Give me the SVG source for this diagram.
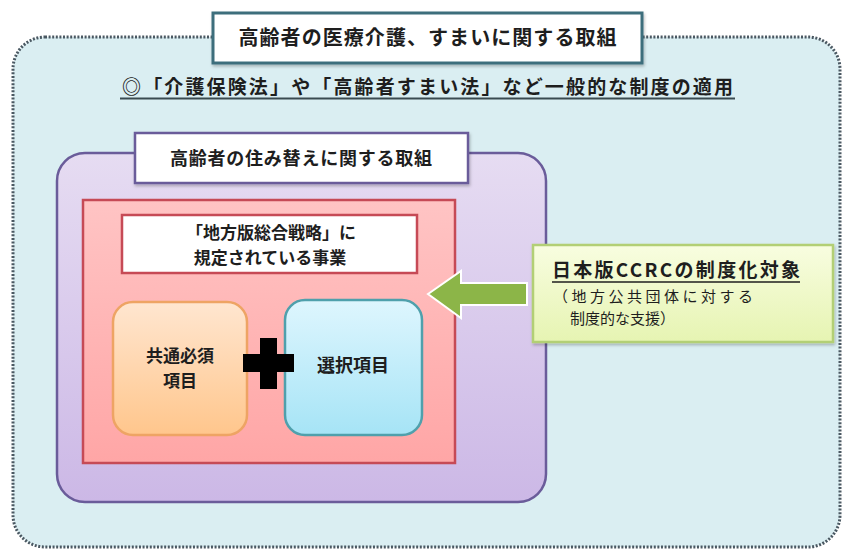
<svg xmlns="http://www.w3.org/2000/svg" width="843" height="551" viewBox="0 0 843 551">
<defs>
<linearGradient id="gPurple" x1="0" y1="0" x2="0" y2="1"><stop offset="0" stop-color="#e6dcf2"/><stop offset="1" stop-color="#ccb8e6"/></linearGradient>
<linearGradient id="gRed" x1="0" y1="0" x2="0" y2="1"><stop offset="0" stop-color="#ffc4c4"/><stop offset="1" stop-color="#ffa6a6"/></linearGradient>
<linearGradient id="gOrange" x1="0" y1="0" x2="0" y2="1"><stop offset="0" stop-color="#ffe6d0"/><stop offset="1" stop-color="#ffc68c"/></linearGradient>
<linearGradient id="gBlue" x1="0" y1="0" x2="0" y2="1"><stop offset="0" stop-color="#def6fe"/><stop offset="1" stop-color="#a6e4f6"/></linearGradient>
<linearGradient id="gGreen" x1="0" y1="0" x2="0" y2="1"><stop offset="0" stop-color="#f8fde0"/><stop offset="1" stop-color="#e6f4b2"/></linearGradient>
<filter id="sh" x="-10%" y="-10%" width="120%" height="130%"><feDropShadow dx="1" dy="2" stdDeviation="1.5" flood-color="#000" flood-opacity="0.25"/></filter>
</defs>
<style>
text{font-family:"Noto Sans CJK JP","Noto Sans",sans-serif;fill:#1e1e1e;}
.b{font-weight:bold;}
</style>
<rect width="843" height="551" fill="#ffffff"/>
<g id="outer">
<rect x="13" y="37" width="827" height="510" rx="32" fill="#daeef2" stroke="#4a5862" stroke-width="3" stroke-dasharray="2 1.6"/>
</g>
<g id="title">
<rect x="213" y="13" width="429" height="50" fill="#ffffff" stroke="#3d6e7c" stroke-width="3" filter="url(#sh)"/>
<text class="b" x="427.5" y="45" font-size="20" text-anchor="middle" textLength="378">高齢者の医療介護、すまいに関する取組</text>
</g>
<g id="subtitle">
<text class="b" x="122" y="94" font-size="19" textLength="611">◎「介護保険法」や「高齢者すまい法」など一般的な制度の適用</text>
<line x1="120" y1="98.5" x2="735" y2="98.5" stroke="#3a4a50" stroke-width="2"/>
</g>
<g id="purple">
<rect x="57" y="153" width="489" height="349" rx="28" fill="url(#gPurple)" stroke="#6a5c9a" stroke-width="2.5"/>
<rect x="135" y="133" width="333" height="50" fill="#ffffff" stroke="#6a5c9a" stroke-width="2.5" filter="url(#sh)"/>
<text class="b" x="301" y="165" font-size="18" text-anchor="middle" textLength="262">高齢者の住み替えに関する取組</text>
</g>
<g id="red">
<rect x="83" y="200" width="372" height="263" fill="url(#gRed)" stroke="#c64a56" stroke-width="2.5"/>
<rect x="122" y="215" width="295" height="58" fill="#ffffff" stroke="#c64a56" stroke-width="2.5"/>
<text class="b" x="271" y="239" font-size="17" text-anchor="middle">「地方版総合戦略」に</text>
<text class="b" x="270" y="264" font-size="17" text-anchor="middle">規定されている事業</text>
</g>
<g id="common">
<rect x="113" y="302" width="134" height="133" rx="20" fill="url(#gOrange)" stroke="#eea464" stroke-width="2.5"/>
<text class="b" x="180" y="362" font-size="17" text-anchor="middle">共通必須</text>
<text class="b" x="180" y="387" font-size="17" text-anchor="middle">項目</text>
</g>
<g id="select">
<rect x="285" y="300" width="137" height="135" rx="20" fill="url(#gBlue)" stroke="#4fa0ac" stroke-width="2.5"/>
<text class="b" x="353" y="372" font-size="18" text-anchor="middle">選択項目</text>
</g>
<g id="plus">
<rect x="243" y="354" width="51" height="18" fill="#000000"/>
<rect x="260" y="338" width="17" height="51" fill="#000000"/>
</g>
<g id="ccrc">
<rect x="533" y="245" width="300" height="97" fill="url(#gGreen)" stroke="#b2cf74" stroke-width="2.5" filter="url(#sh)"/>
<text class="b" x="552" y="277" font-size="19" textLength="248">日本版CCRCの制度化対象</text>
<line x1="552" y1="282" x2="800" y2="282" stroke="#1e1e1e" stroke-width="1.5"/>
<text x="553" y="302" font-size="15" fill="#333" textLength="200">（地方公共団体に対する</text>
<text x="570" y="324" font-size="15" fill="#333">制度的な支援）</text>
</g>
<g id="connectors">
<path d="M428,294 L461,271 L461,283 L527,283 L527,305 L461,305 L461,318 Z" fill="#8cb548" stroke="#ffffff" stroke-width="2" stroke-linejoin="miter"/>
</g>
</svg>
